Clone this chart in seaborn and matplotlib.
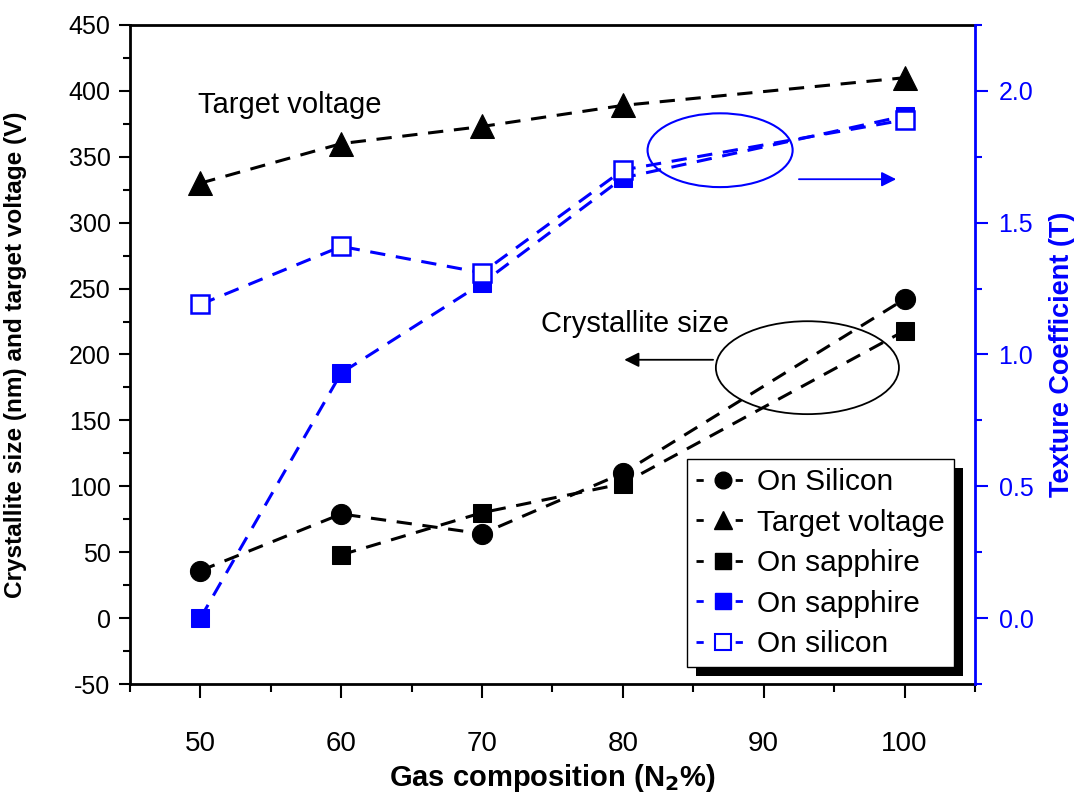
import numpy as np
import pandas as pd
import seaborn as sns
import matplotlib
matplotlib.use("Agg")
import matplotlib.pyplot as plt
from matplotlib.lines import Line2D
from matplotlib.patches import Ellipse, Rectangle
from matplotlib.transforms import IdentityTransform

# ---- data ----
x_all = [50, 60, 70, 80, 100]
silicon_size = [36, 79, 64, 110, 242]
target_voltage = [330, 360, 373, 389, 410]
x_sapph_size = [60, 70, 80, 100]
sapphire_size = [48, 80, 102, 218]
tc_sapphire = [0.0, 0.93, 1.27, 1.67, 1.905]
tc_silicon = [1.19, 1.41, 1.31, 1.70, 1.89]

xticks = [50, 60, 70, 80, 90, 100]
yticks_left = [-50, 0, 50, 100, 150, 200, 250, 300, 350, 400, 450]
yticks_right = [0.0, 0.5, 1.0, 1.5, 2.0]

sns.set_style("ticks")
plt.rcParams['font.family'] = ['Liberation Sans', 'DejaVu Sans']
plt.rcParams['axes.unicode_minus'] = False
plt.rcParams['text.color'] = 'black'
plt.rcParams['axes.labelcolor'] = 'black'
plt.rcParams['xtick.color'] = 'black'
plt.rcParams['ytick.color'] = 'black'
BLUE = '#0000ff'

fig = plt.figure(figsize=(10.79, 8.02), dpi=100)
ax = fig.add_axes([130/1079, 1-684/802, 845/1079, 659/802])
ax2 = ax.twinx()

lw = 2.2
dash = (0, (5, 3.5))

sns.lineplot(x=x_all, y=target_voltage, ax=ax, color='black', marker='^', markersize=17,
             markeredgecolor='black', linewidth=lw)
sns.lineplot(x=x_all, y=silicon_size, ax=ax, color='black', marker='o', markersize=14.5,
             markeredgecolor='black', linewidth=lw)
sns.lineplot(x=x_sapph_size, y=sapphire_size, ax=ax, color='black', marker='s', markersize=13,
             markeredgecolor='black', linewidth=lw)
for l in ax.get_lines():
    l.set_linestyle(dash)

sns.lineplot(x=x_all, y=tc_sapphire, ax=ax2, color=BLUE, marker='s', markersize=13,
             markeredgecolor=BLUE, linewidth=lw)
sns.lineplot(x=x_all, y=tc_silicon, ax=ax2, color=BLUE, marker='s', markersize=13,
             markerfacecolor='white', markeredgecolor=BLUE, markeredgewidth=1.8, linewidth=lw)
for l in ax2.get_lines():
    l.set_linestyle(dash)

ax.set_xlim(45, 105)
ax.set_ylim(-50, 450)
ax2.set_ylim(-0.25, 2.25)

ax.set_xticks(xticks)
ax.set_xticks(np.arange(45, 106, 5), minor=True)
ax.set_yticks(yticks_left)
ax.set_yticks(np.arange(-50, 451, 25), minor=True)
ax2.set_yticks(yticks_right)
ax2.set_yticks(np.arange(-0.25, 2.26, 0.25), minor=True)
ax.set_xticklabels([str(v) for v in xticks], fontsize=20)
ax.set_yticklabels([str(v) for v in yticks_left])
ax.tick_params(axis='y', labelsize=18, direction='out', length=8, width=1.5, pad=6)
ax.tick_params(axis='y', which='minor', direction='out', length=5, width=1.5)
ax.tick_params(axis='x', direction='out', length=10, width=1.5, pad=24)
ax.tick_params(axis='x', which='minor', direction='out', length=6, width=1.5)
ax2.tick_params(axis='y', colors=BLUE, labelsize=18, direction='out', length=9, width=1.5, pad=8)
ax2.tick_params(axis='y', which='minor', colors=BLUE, direction='out', length=5, width=1.5)
ax2.set_yticklabels(['%.1f' % v for v in yticks_right])

for s in ['left', 'bottom', 'top']:
    ax.spines[s].set_linewidth(2)
    ax.spines[s].set_color('black')
    ax.spines[s].set_visible(True)
ax.spines['right'].set_visible(False)
for s in ['left', 'bottom', 'top']:
    ax2.spines[s].set_visible(False)
ax2.spines['right'].set_visible(True)
ax2.spines['right'].set_color(BLUE)
ax2.spines['right'].set_linewidth(2)

ax.set_xlabel('Gas composition (N$_\\mathbf{2}$%)', fontsize=21, fontweight='bold')
ax.xaxis.set_label_coords(0.5, -0.118)
ax.set_ylabel('Crystallite size (nm) and target voltage (V)', fontsize=17.6, fontweight='bold')
ax.yaxis.set_label_coords(-0.122, 0.5)
ax2.set_ylabel('Texture Coefficient (T)', color=BLUE, fontsize=19.5, fontweight='bold')
ax2.yaxis.set_label_coords(1.088, 0.5)

# annotations
ax.text(49.8, 389, 'Target voltage', fontsize=21, ha='left', va='center')
ax.text(74.2, 223, 'Crystallite size', fontsize=21, ha='left', va='center')
ax.add_patch(Ellipse((93.1, 190), 13.0, 70.5, fill=False, edgecolor='black', linewidth=1.3))
ax.annotate('', xy=(79.9, 196), xytext=(86.6, 196),
            arrowprops=dict(arrowstyle='-|>', color='black', lw=1.3, mutation_scale=22))
ax.add_patch(Ellipse((86.9, 355), 10.3, 56, fill=False, edgecolor=BLUE, linewidth=1.5))
ax.annotate('', xy=(99.6, 333), xytext=(92.3, 333),
            arrowprops=dict(arrowstyle='-|>', color=BLUE, lw=1.3, mutation_scale=22))

# legend
hdash = (0, (2.6, 11.5))
handles = [
    Line2D([], [], color='black', linestyle=hdash, lw=2, marker='o', markersize=12),
    Line2D([], [], color='black', linestyle=hdash, lw=2, marker='^', markersize=13),
    Line2D([], [], color='black', linestyle=hdash, lw=2, marker='s', markersize=11),
    Line2D([], [], color=BLUE, linestyle=hdash, lw=2, marker='s', markersize=11),
    Line2D([], [], color=BLUE, linestyle=hdash, lw=2, marker='s', markersize=11,
           markerfacecolor='white', markeredgecolor=BLUE, markeredgewidth=1.5),
]
labels = ['On Silicon', 'Target voltage', 'On sapphire', 'On sapphire', 'On silicon']
leg = ax2.legend(handles, labels, loc='upper left', bbox_to_anchor=(0.659, 0.341),
                 fontsize=21.5, frameon=True, fancybox=False, framealpha=1,
                 edgecolor='black', handlelength=1.8, handletextpad=0.25,
                 labelspacing=0.42, borderpad=0.3, borderaxespad=0)
leg.get_frame().set_linewidth(1.0)
leg.set_zorder(10)

fig.canvas.draw()
bb = leg.get_window_extent()
off = 9
shadow = Rectangle((bb.x0 + off, bb.y0 - off), bb.width, bb.height, transform=IdentityTransform(),
                   facecolor='black', edgecolor='none', zorder=9, clip_on=False)
ax2.add_artist(shadow)

fig.savefig('out.png', dpi=100)
